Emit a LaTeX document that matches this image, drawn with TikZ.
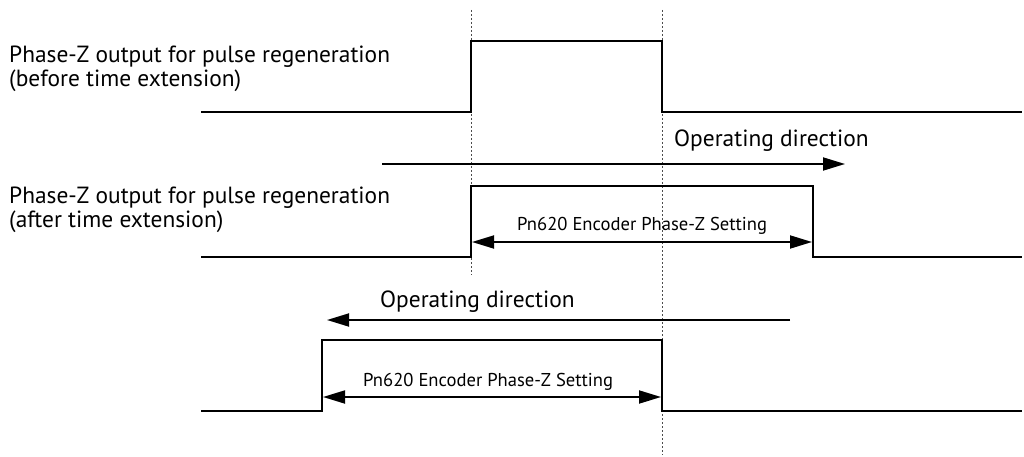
\documentclass[tikz,border=0pt]{standalone}
\usepackage{fontspec}
\setmainfont{PT Sans}
\usetikzlibrary{arrows.meta}

\begin{document}
\begin{tikzpicture}[x=1pt, y=-1pt,
    sig/.style = {line width=2pt, line join=miter},
    guide/.style = {line width=0.8pt, black!70, dash pattern=on 2pt off 2pt},
    dir/.style = {line width=1.8pt, -{Triangle[length=22pt,width=13pt]}},
    span/.style = {line width=1.8pt, {Triangle[length=22pt,width=13pt]}-{Triangle[length=22pt,width=13pt]}},
    lbl/.style = {font=\fontsize{23.4}{26}\selectfont, anchor=base west, inner sep=0pt},
    small/.style = {font=\fontsize{18.6}{20}\selectfont, anchor=base west, inner sep=0pt}]
        \useasboundingbox (0,0) rectangle (1024,457);
        % guide lines
        \draw[guide] (471,10) -- (471,275);
        \draw[guide] (662,10) -- (662,455);
        % pulses
        \draw[sig] (201,112) -- (471,112) -- (471,41) -- (662,41) -- (662,112) -- (1022,112);
        \draw[sig] (201,257) -- (471,257) -- (471,186) -- (813,186) -- (813,257) -- (1022,257);
        \draw[sig] (201,411) -- (322,411) -- (322,340) -- (662,340) -- (662,411) -- (1022,411);
        \node[lbl] (before) at (9,63) {Phase-Z output for pulse regeneration};
        \node[lbl] (beforeb) at (9,87) {(before time extension)};
        \node[lbl] (after) at (9,203) {Phase-Z output for pulse regeneration};
        \node[lbl] (afterb) at (9,227) {(after time extension)};
        % operating directions
        \coordinate (fwdA) at (382,164);
        \coordinate (fwdB) at (845,164);
        \draw[dir] (fwdA) -- (fwdB);
        \node[lbl] (fwdlbl) at (674,147) {Operating direction};
        \coordinate (backA) at (790,320);
        \coordinate (backB) at (327,320);
        \draw[dir] (backA) -- (backB);
        \node[lbl] (backlbl) at (380,307) {Operating direction};
        % Pn620 settings
        \coordinate (spanA) at (472,242);
        \coordinate (spanB) at (812,242);
        \draw[span] (spanA) -- (spanB);
        \node[small] (spanlbl) at (517,230) {Pn620 Encoder Phase-Z Setting};
        \coordinate (spanC) at (323,397);
        \coordinate (spanD) at (661,397);
        \draw[span] (spanC) -- (spanD);
        \node[small] (spanlbl2) at (363,386) {Pn620 Encoder Phase-Z Setting};
\end{tikzpicture}
\end{document}
